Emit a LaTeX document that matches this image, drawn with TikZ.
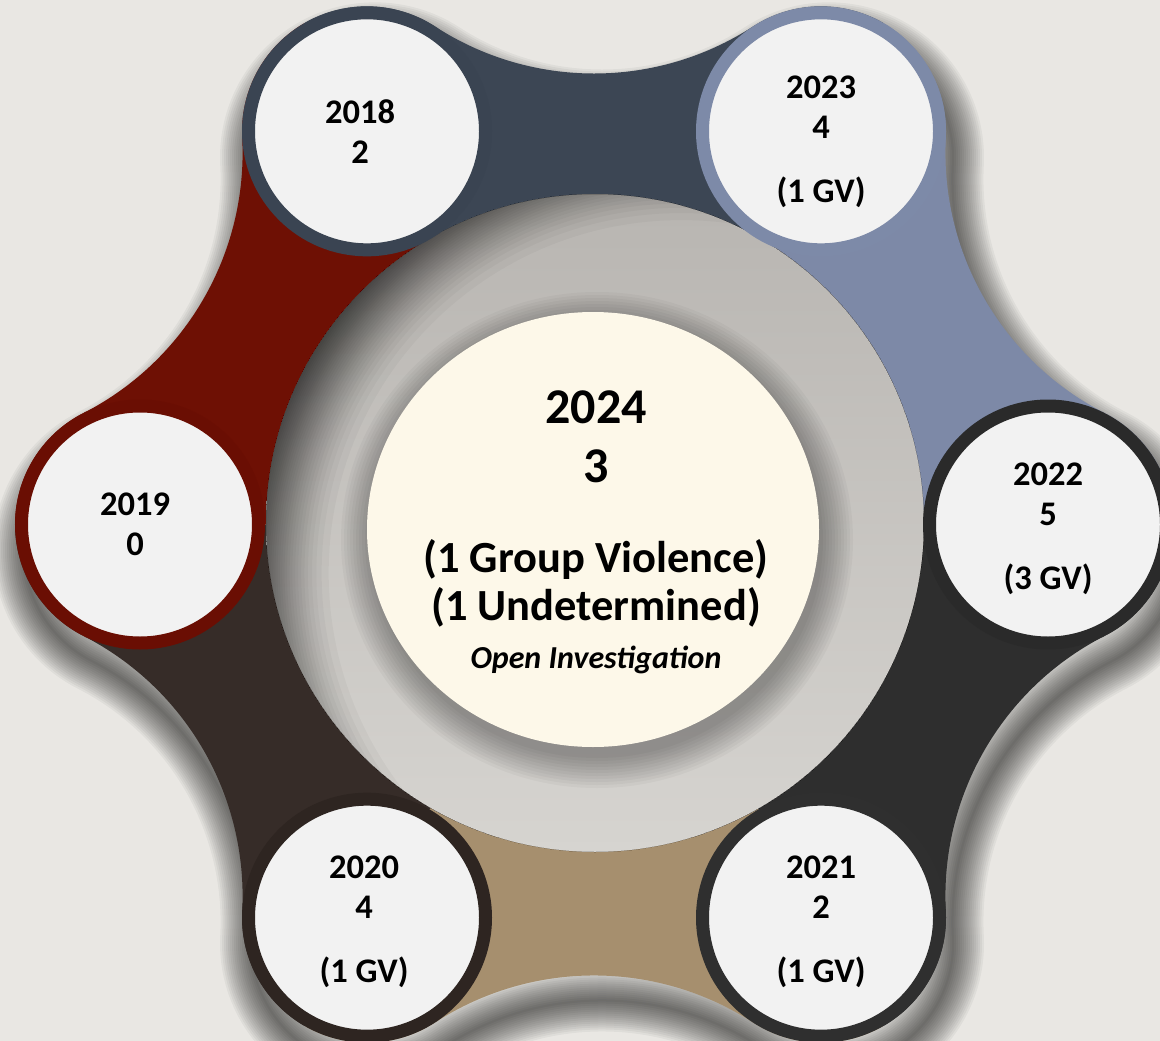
\documentclass[tikz,border=0pt]{standalone}
\usepackage{fontspec}
\setmainfont{Carlito}
\usetikzlibrary{calc,shapes.geometric}

\definecolor{paper}{HTML}{E9E7E3}
\definecolor{face}{HTML}{F2F2F2}
\definecolor{cream}{HTML}{FDF8E9}
\definecolor{ringtop}{HTML}{B8B5B1}
\definecolor{ringbot}{HTML}{D6D4D0}
\definecolor{slate}{HTML}{3C4654}
\definecolor{steel}{HTML}{7D89A7}
\definecolor{coal}{HTML}{2E2E2E}
\definecolor{sand}{HTML}{A68F6E}
\definecolor{umber}{HTML}{362C28}
\definecolor{bandred}{HTML}{6E1004}
\definecolor{rimA}{HTML}{3A4452}
\definecolor{rimB}{HTML}{7D8AA8}
\definecolor{rimC}{HTML}{2A2A2A}
\definecolor{rimD}{HTML}{2F2F2F}
\definecolor{rimE}{HTML}{2E2521}
\definecolor{rimF}{HTML}{6A0E03}

\def\outline{(1104.78,413.14)
  \foreach \a in {0,60,...,300}{
    arc[start angle=\a-62.97, end angle=\a+62.97, radius=125]
    arc[start angle=\a+242.97, end angle=\a+177.03, radius=292.1]} -- cycle}

\tikzset{
  yearbox/.style={circle, draw=#1, fill=face, line width=13pt, minimum size=237pt, inner sep=0pt},
  yeartext/.style={align=center, font=\bfseries\fontsize{34.5}{40}\selectfont},
  bigline/.style={anchor=base, font=\bfseries\fontsize{50}{58}\selectfont},
  midline/.style={anchor=base, font=\bfseries\fontsize{44.5}{50}\selectfont},
  smallline/.style={anchor=base, font=\bfseries\itshape\fontsize{32}{36}\selectfont}
}

\begin{document}
\begin{tikzpicture}[x=1pt, y=-1pt]
\useasboundingbox (0,0) rectangle (1160,1041);
\fill[paper] (0,0) rectangle (1160,1041);
\coordinate (C) at (594,524.5);
\coordinate (R) at (595,523);
\foreach \n/\a in {2022/0, 2021/60, 2020/120, 2019/180, 2018/240, 2023/300}
  \coordinate (p\n) at ($(C)+(\a:454)$);

\begin{scope}[shift={(8,26)}]
  \fill[black, opacity=.045] \outline;
  \foreach \g in {2,4,...,30}
    \draw[black, opacity=.045, line width={2*\g pt}] \outline;
\end{scope}

\foreach \a/\c in {240/slate, 300/steel, 0/coal, 60/sand, 120/umber, 180/bandred}{
  \begin{scope}
    \clip (C) -- ($(C)+(\a:800)$) -- ($(C)+(\a+60:800)$) -- cycle;
    \fill[\c] \outline;
  \end{scope}
}

\shade[top color=ringtop, bottom color=ringbot] (R) circle (329);
\begin{scope}
  \clip (R) circle (329);
  \foreach \i in {1,...,30}
    \fill[black, opacity=.03, even odd rule] (R) circle (329) ($(R)+(86.6,50)$) circle ({345+87*((\i-0.5)/30)^0.588});
  \foreach \g in {0,3,...,30}
    \fill[black, opacity=.03] (597,540) ellipse [x radius={226+\g}, y radius={218+\g}];
\end{scope}
\node[ellipse, fill=cream, minimum width=452pt, minimum height=435pt, inner sep=0pt] (hub) at (593,529.5) {};

\foreach \n/\c in {2018/rimA, 2023/rimB, 2022/rimC, 2021/rimD, 2020/rimE, 2019/rimF}
  \node[yearbox=\c] (y\n) at (p\n) {};

\foreach \n/\v/\x in {2018/2/-7, 2019/0/-5}
  \node[yeartext, xshift=\x pt] (t\n) at (p\n) {\n\\\v};
\foreach \n/\v/\g/\x/\s in {2023/4/1/0/-10, 2022/5/3/0/-4, 2021/2/1/0/-4.5, 2020/4/1/-3/-4}
  \node[yeartext, xshift=\x pt, yshift=\s pt] (t\n) at (p\n) {\n\\\v\\[24pt](\g~GV)};

\node[bigline] (l1) at (596,423) {2024};
\node[bigline] (l2) at (596,482) {3};
\node[midline] (l3) at (596,572) {(1 Group Violence)};
\node[midline] (l4) at (596,620) {(1 Undetermined)};
\node[smallline] (l5) at (596,668) {Open Investigation};
\end{tikzpicture}
\end{document}
